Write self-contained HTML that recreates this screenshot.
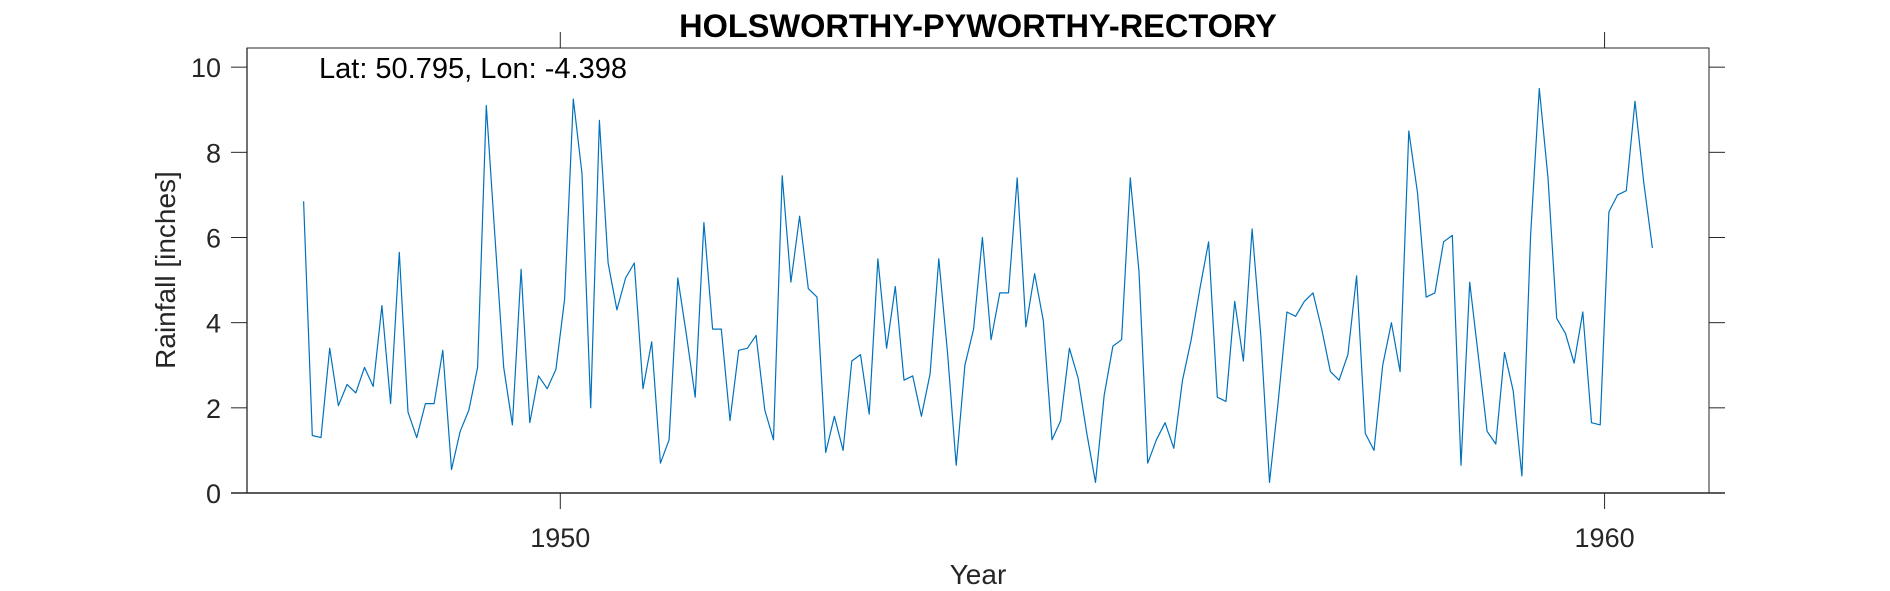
<!DOCTYPE html>
<html><head><meta charset="utf-8">
<style>
html,body{margin:0;padding:0;background:#fff;}
svg{display:block;font-family:"Liberation Sans",Arial,sans-serif;}
</style></head>
<body>
<svg id="chart" width="1890" height="591" viewBox="0 0 1890 591" xmlns="http://www.w3.org/2000/svg">
  <rect x="0" y="0" width="1890" height="591" fill="#fff"/>
  <text x="978" y="37" text-anchor="middle" font-size="32.5" font-weight="bold" fill="#000">HOLSWORTHY-PYWORTHY-RECTORY</text>
  <g id="axes"></g>
  <polyline id="series" fill="none" stroke="#0072BD" stroke-width="1.2" stroke-linejoin="round"/>
  <text x="319" y="78" font-size="29" fill="#000">Lat: 50.795, Lon: -4.398</text>
  <text x="978" y="584" text-anchor="middle" font-size="28" fill="#262626">Year</text>
  <text transform="translate(175,270) rotate(-90)" text-anchor="middle" font-size="28" fill="#262626">Rainfall [inches]</text>
</svg>
<script>
const startYear = 1947;
const startMonth = 7;
const rainfall = [6.85,1.35,1.3,3.4,2.05,2.55,2.35,2.95,2.5,4.4,2.1,5.65,1.9,1.3,2.1,2.1,3.35,0.55,1.45,1.95,2.95,9.1,6.0,2.95,1.6,5.25,1.65,2.75,2.45,2.9,4.55,9.25,7.5,2.0,8.75,5.4,4.3,5.05,5.4,2.45,3.55,0.7,1.25,5.05,3.7,2.25,6.35,3.85,3.85,1.7,3.35,3.4,3.7,1.95,1.25,7.45,4.95,6.5,4.8,4.6,0.95,1.8,1.0,3.1,3.25,1.85,5.5,3.4,4.85,2.65,2.75,1.8,2.8,5.5,3.3,0.65,3.0,3.85,6.0,3.6,4.7,4.7,7.4,3.9,5.15,4.05,1.25,1.7,3.4,2.7,1.4,0.25,2.3,3.45,3.6,7.4,5.2,0.7,1.25,1.65,1.05,2.65,3.6,4.8,5.9,2.25,2.15,4.5,3.1,6.2,3.7,0.25,2.15,4.25,4.15,4.5,4.7,3.85,2.85,2.65,3.25,5.1,1.4,1.0,3.0,4.0,2.85,8.5,7.05,4.6,4.7,5.9,6.05,0.65,4.95,3.2,1.45,1.15,3.3,2.4,0.4,6.05,9.5,7.4,4.1,3.75,3.05,4.25,1.65,1.6,6.6,7.0,7.1,9.2,7.3,5.75];
const yTicks = [0,2,4,6,8,10];
const xTicks = [1950,1960];
const xTickLabels = ["1950","1960"];

const L=247,R=1709,T=48,B=493;
const xMin=1947,xMax=1961,yMin=0,yMax=10.45;
const xs=v=>L+(v-xMin)/(xMax-xMin)*(R-L);
const ys=v=>B-(v-yMin)/(yMax-yMin)*(B-T);
const NS="http://www.w3.org/2000/svg";
const axes=document.getElementById('axes');
function mk(tag,attrs){const e=document.createElementNS(NS,tag);for(const k in attrs)e.setAttribute(k,attrs[k]);return e;}

let e=mk('rect',{x:L,y:T,width:R-L,height:B-T,fill:'none',stroke:'#262626','stroke-width':1});


axes.appendChild(e);
e=mk('line',{x1:231,y1:B,x2:1725,y2:B,stroke:'#262626','stroke-width':1.5});


axes.appendChild(e);
e=mk('line',{x1:L,y1:T,x2:L,y2:B,stroke:'#262626','stroke-width':1.3});


axes.appendChild(e);

yTicks.forEach(t=>{
  const y=ys(t);
  let a=mk('line',{x1:231,y1:y,x2:L,y2:y,stroke:'#262626','stroke-width':1});
  
  
  axes.appendChild(a);
  let b=mk('line',{x1:R,y1:y,x2:1725,y2:y,stroke:'#262626','stroke-width':1});
  
  
  axes.appendChild(b);
  let tx=mk('text',{x:221,y:y+10,'text-anchor':'end','font-size':27,fill:'#262626'});
  tx.textContent=String(t);
  
  
  axes.appendChild(tx);
});
xTicks.forEach((t,i)=>{
  const x=xs(t);
  let a=mk('line',{x1:x,y1:B,x2:x,y2:509,stroke:'#262626','stroke-width':1});
  
  
  axes.appendChild(a);
  let b=mk('line',{x1:x,y1:32,x2:x,y2:T,stroke:'#262626','stroke-width':1});
  
  
  axes.appendChild(b);
  let tx=mk('text',{x:x,y:547,'text-anchor':'middle','font-size':27,fill:'#262626'});
  tx.textContent=xTickLabels[i];
  
  
  axes.appendChild(tx);
});

const pts=rainfall.map((v,i)=>{const t=startYear+(startMonth-1+i+0.5)/12;return xs(t).toFixed(1)+','+ys(v).toFixed(1);});
document.getElementById('series').setAttribute('points',pts.join(' '));
</script>
</body></html>
